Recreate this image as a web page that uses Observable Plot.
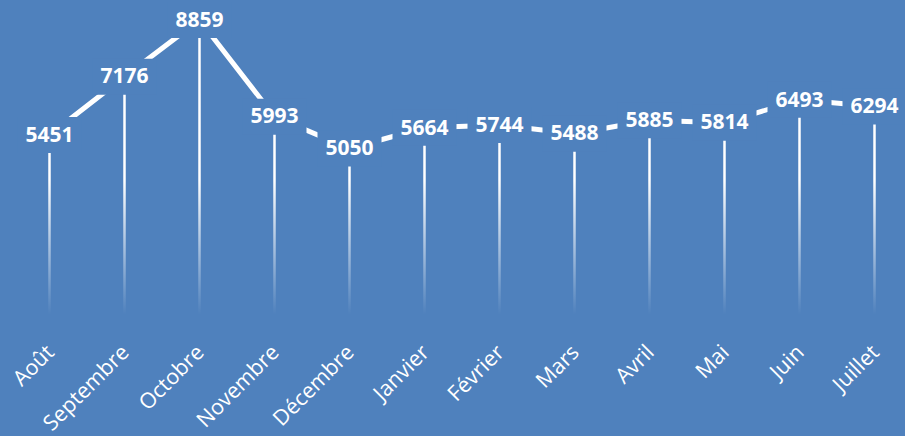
<!DOCTYPE html>
<html><head><meta charset="utf-8">
<script src="https://cdn.jsdelivr.net/npm/d3@7"></script>
<script src="https://cdn.jsdelivr.net/npm/@observablehq/plot@0.6"></script>
<style>html,body{margin:0;padding:0;background:#4F81BD;} svg{display:block}</style>
</head><body><div id="chart"></div>
<script>
const months = ["Août","Septembre","Octobre","Novembre","Décembre","Janvier","Février","Mars","Avril","Mai","Juin","Juillet"];
const values = [5451,7176,8859,5993,5050,5664,5744,5488,5885,5814,6493,6294];
const data = months.map((m,i)=>({month:m, value:values[i]}));
const bg = "#4F81BD";
const labelBox = {draw(ctx){ ctx.rect(-32,-18,64,36); }};
const plot = Plot.plot({
  width:905, height:436, marginLeft:48, marginRight:31, marginTop:14.7, marginBottom:117.6,
  style:{background:bg, fontFamily:"'Open Sans', sans-serif"},
  x:{type:"point", domain:months, padding:0, axis:null},
  y:{domain:[0,9000], axis:null},
  marks:[
    Plot.line(data,{x:"month", y:"value", stroke:"white", strokeWidth:5}),
    Plot.ruleX(data,{x:"month", y1:0, y2:"value", stroke:"url(#dropGrad)", strokeWidth:2.5}),
    Plot.dot(data,{x:"month", y:"value", symbol:labelBox, r:10, fill:bg, stroke:"none"}),
    Plot.text(data,{x:"month", y:"value", text:d=>String(d.value), fill:"white", fontWeight:"bold", fontSize:21}),
    Plot.text(months,{x:d=>d, y:0, text:d=>d, rotate:-45, textAnchor:"end", dx:1, dy:30, fill:"white", fontSize:21.5})
  ]
});
const y0 = plot.scale("y").apply(0);
d3.select(plot).insert("defs", ":first-child").html(
  `<linearGradient id="dropGrad" gradientUnits="userSpaceOnUse" x1="0" x2="0" y1="180" y2="${y0-4}">
     <stop offset="0" stop-color="white" stop-opacity="1"/>
     <stop offset="1" stop-color="white" stop-opacity="0"/>
   </linearGradient>`);
document.getElementById("chart").appendChild(plot);
</script>
</body></html>
